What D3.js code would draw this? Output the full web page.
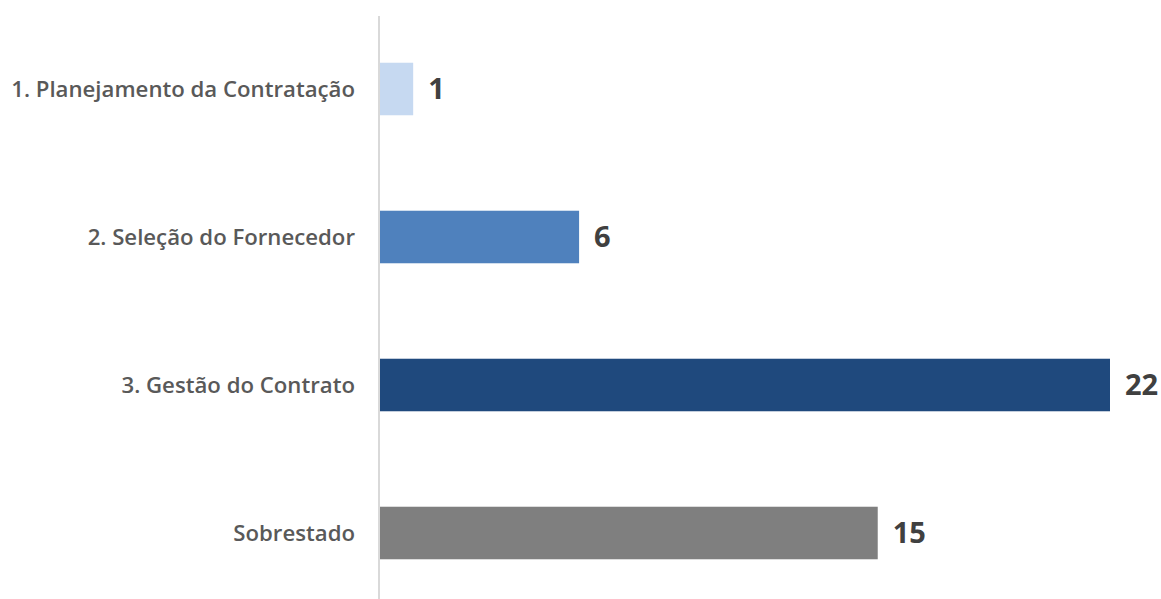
<!DOCTYPE html>
<html><head><meta charset="utf-8">
<script src="https://cdn.jsdelivr.net/npm/d3@7"></script>
<style>body{margin:0;background:#fff}svg{display:block}</style>
</head><body>
<script>
const categories = ["1. Planejamento da Contratação","2. Seleção do Fornecedor","3. Gestão do Contrato","Sobrestado"];
const values = [1, 6, 22, 15];
const colors = ["#c6d9f1", "#4f81bd", "#1f497d", "#7f7f7f"];

const W = 1161, H = 599;
const svg = d3.select("body").append("svg").attr("width", W).attr("height", H);

const x = d3.scaleLinear().domain([0, 22]).range([380, 1110]);
const y = d3.scaleBand().domain(categories).range([15, 607]).paddingInner(0.645).paddingOuter(0.3225);

svg.append("line").attr("x1", 379).attr("x2", 379).attr("y1", 16).attr("y2", H)
  .attr("stroke", "#d9d9d9").attr("stroke-width", 2);

svg.selectAll("rect.bar").data(categories).join("rect")
  .attr("class", "bar")
  .attr("x", x(0))
  .attr("y", d => y(d))
  .attr("width", (d, i) => x(values[i]) - x(0))
  .attr("height", y.bandwidth())
  .attr("fill", (d, i) => colors[i]);

svg.selectAll("text.cat").data(categories).join("text")
  .attr("class", "cat")
  .attr("x", 355)
  .attr("y", d => y(d) + y.bandwidth() / 2)
  .attr("dy", "0.35em")
  .attr("text-anchor", "end")
  .attr("font-family", "Open Sans, sans-serif")
  .attr("font-weight", 600)
  .attr("font-size", 22.2)
  .attr("fill", "#595959")
  .text(d => d);

svg.selectAll("text.val").data(categories).join("text")
  .attr("class", "val")
  .attr("x", (d, i) => x(values[i]) + 15)
  .attr("y", d => y(d) + y.bandwidth() / 2)
  .attr("dy", "0.36em")
  .attr("font-family", "Open Sans, sans-serif")
  .attr("font-weight", 700)
  .attr("font-size", 29)
  .attr("fill", "#404040")
  .text((d, i) => values[i]);
</script>
</body></html>
